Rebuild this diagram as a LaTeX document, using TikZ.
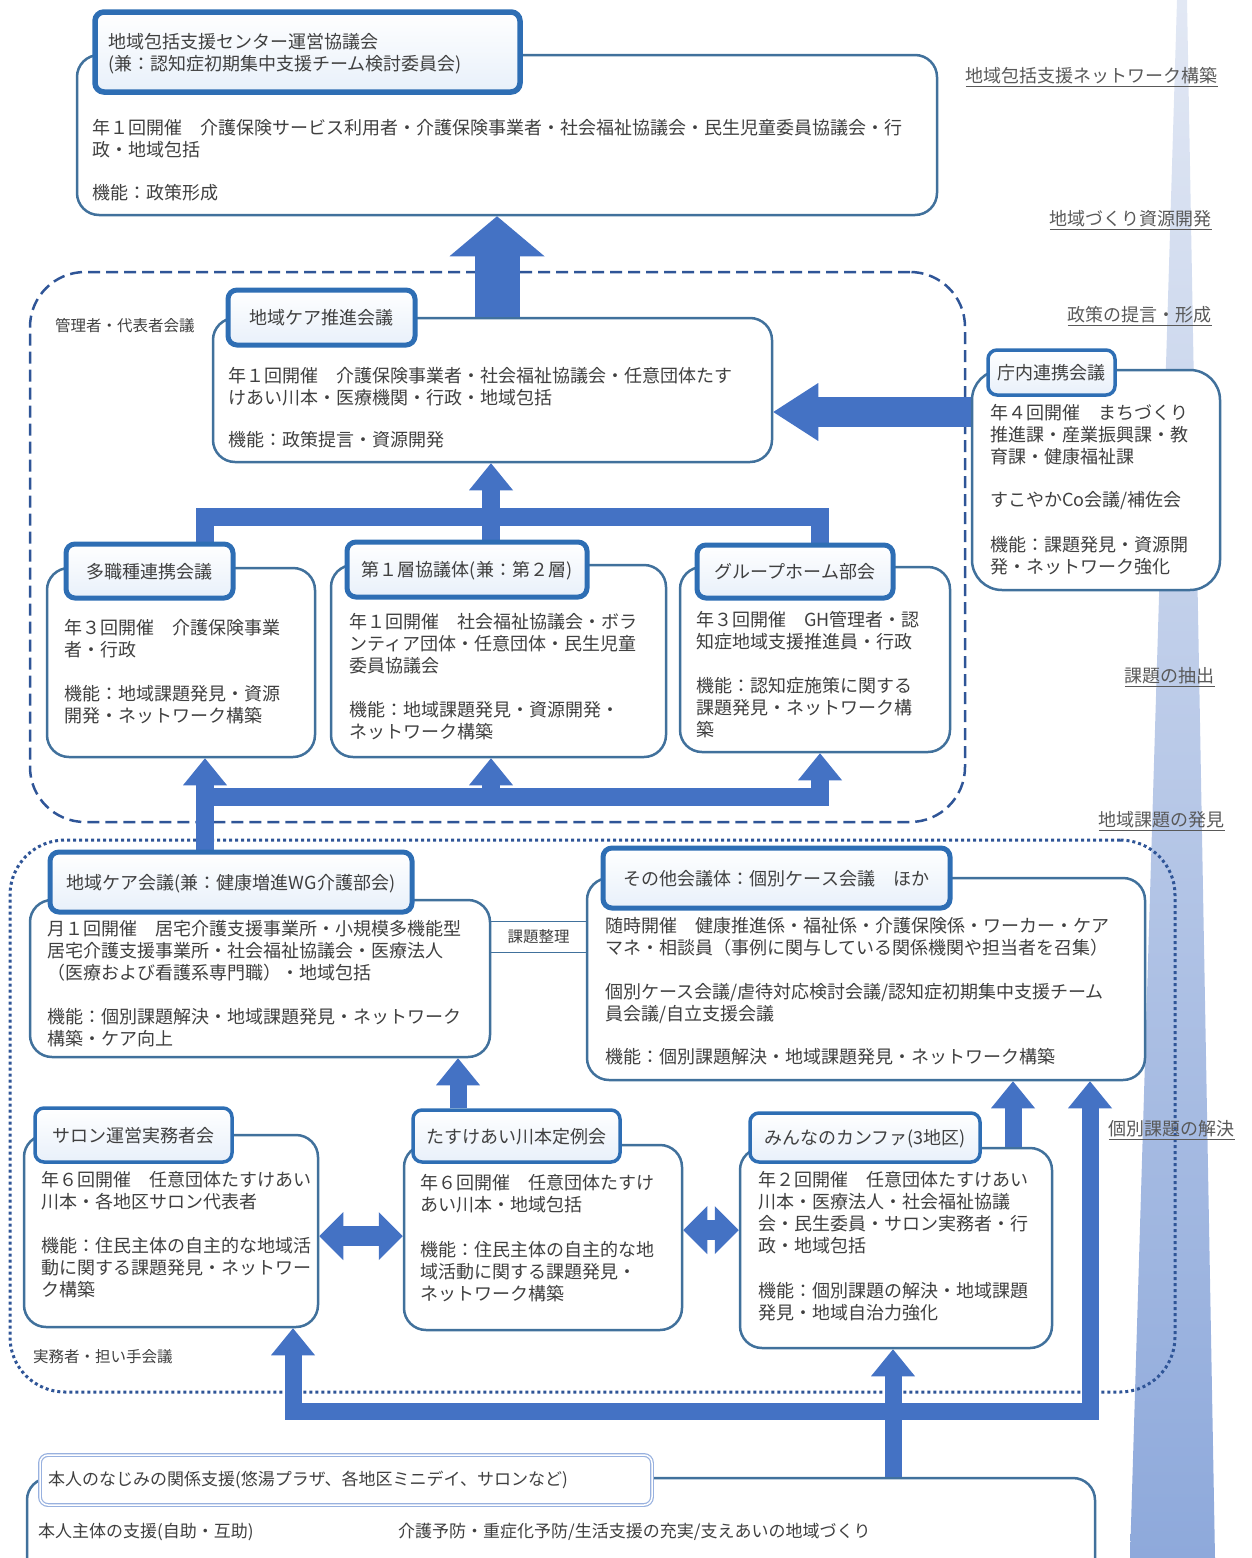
\documentclass[tikz,border=0pt]{standalone}
\usepackage{fontspec}
\setmainfont{Noto Sans CJK JP}
\usetikzlibrary{arrows.meta,fit}
\definecolor{boxc}{RGB}{65,113,156}
\definecolor{hdrc}{RGB}{46,110,180}
\definecolor{arrc}{RGB}{68,114,196}
\definecolor{grpc}{RGB}{47,85,151}
\definecolor{txtc}{RGB}{64,64,64}
\definecolor{hdrfill}{RGB}{232,240,250}
\definecolor{spiketop}{RGB}{226,232,244}
\definecolor{spikebot}{RGB}{142,169,219}
\definecolor{lblc}{RGB}{89,89,89}
\newcommand{\bfsz}{\fontsize{18}{22}\selectfont}
\newcommand{\mfsz}{\fontsize{17}{21}\selectfont}
\newcommand{\sfsz}{\fontsize{15.5}{19}\selectfont}
\pgfdeclarelayer{back}
\pgfdeclarelayer{mid}
\pgfsetlayers{back,mid,main}
\tikzset{
  outerbox/.style={draw=boxc, line width=2.5pt, rounded corners=22pt, fill=white, inner sep=0pt},
  hdrbox/.style={draw=hdrc, line width=5pt, rounded corners=9pt, top color=white, bottom color=hdrfill, inner sep=0pt},
  hdrtxt/.style={anchor=base, inner sep=0pt, text=txtc, font=\bfsz},
  honhdr/.style={draw=arrc!55, line width=1.2pt, double=white, double distance=1.5pt, rounded corners=8pt, fill=white, inner sep=0pt},
  bodytxt/.style={anchor=north west, inner sep=0pt, align=left, text=txtc, font=\bfsz},
  smalltxt/.style={inner sep=0pt, text=txtc, font=\sfsz},
  sidelbl/.style={anchor=east, inner sep=0pt, text=lblc, font=\bfsz},
  grpdash/.style={draw=grpc, line width=2.5pt, dash pattern=on 12pt off 6pt, rounded corners=55pt, inner sep=0pt},
  grpdot/.style={draw=grpc, line width=3pt, dash pattern=on 3pt off 3pt, rounded corners=55pt, inner sep=0pt},
  shaft/.style={draw=arrc, line join=miter},
  tipL/.tip={Triangle[width=95pt,length=40pt,line width=0pt]},
  tipW/.tip={Triangle[width=58pt,length=45pt,line width=0pt]},
  tipM/.tip={Triangle[width=44pt,length=27pt,line width=0pt]},
  tipD/.tip={Triangle[width=48pt,length=24pt,line width=0pt]},
}
\begin{document}
\begin{tikzpicture}[x=1pt,y=-1pt]
\useasboundingbox (0,0) rectangle (1251,1558);
\clip (0,0) rectangle (1251,1558);

\begin{pgfonlayer}{back}
% spike
\shade[top color=spiketop, bottom color=spikebot] (1177,0) -- (1187,0) -- (1215,1558) -- (1130,1558) -- cycle;

% groups
\node[grpdash, fit={(30,272) (965,822)}] (mgr) {};
\node[grpdot, fit={(10,840) (1175,1392)}] (prac) {};

% outer boxes
\node[outerbox, fit={(77,55) (937,215)}] (top) {};
\node[outerbox, fit={(213,318) (772,462)}] (suishin) {};
\node[outerbox, rounded corners=30pt, fit={(972,370) (1220,590)}] (chonai) {};
\node[outerbox, fit={(47,568) (315,757)}] (tamulti) {};
\node[outerbox, fit={(331,565) (666,757)}] (dai1) {};
\node[outerbox, fit={(680,567) (950,752)}] (gh) {};
\node[outerbox, fit={(30,900) (490,1057)}] (kaigi) {};
\node[outerbox, fit={(587,878) (1145,1080)}] (sonota) {};
\node[outerbox, fit={(24,1135) (318,1327)}] (salon) {};
\node[outerbox, fit={(404,1145) (682,1330)}] (tasuke) {};
\node[outerbox, fit={(740,1148) (1052,1348)}] (minna) {};
\node[outerbox, fit={(27,1478) (1095,1600)}] (honnin) {};
\end{pgfonlayer}

% side labels
\node[sidelbl] (l1) at (1218,77) {\underline{地域包括支援ネットワーク構築}};
\node[sidelbl] (l2) at (1212,220) {\underline{地域づくり資源開発}};
\node[sidelbl] (l3) at (1212,316) {\underline{政策の提言・形成}};
\node[sidelbl] (l4) at (1215,677) {\underline{課題の抽出}};
\node[sidelbl] (l5) at (1225,821) {\underline{地域課題の発見}};
\node[sidelbl] (l6) at (1235,1130) {\underline{個別課題の解決}};

\node[smalltxt, anchor=west] (mgrl) at (55,326) {管理者・代表者会議};
\node[smalltxt, anchor=west] (pracl) at (33,1357) {実務者・担い手会議};

% body texts
\node[bodytxt] (topb) at (92,119) {年１回開催　介護保険サービス利用者・介護保険事業者・社会福祉協議会・民生児童委員協議会・行\\政・地域包括\\[21pt]機能：政策形成};
\node[bodytxt] (suishinb) at (228,367) {年１回開催　介護保険事業者・社会福祉協議会・任意団体たす\\けあい川本・医療機関・行政・地域包括\\[20pt]機能：政策提言・資源開発};
\node[bodytxt] (chonaib) at (990,404) {年４回開催　まちづくり\\推進課・産業振興課・教\\育課・健康福祉課\\[21pt]すこやかCo会議/補佐会\\[23pt]機能：課題発見・資源開\\発・ネットワーク強化};
\node[bodytxt] (tamultib) at (64,619) {年３回開催　介護保険事業\\者・行政\\[22pt]機能：地域課題発見・資源\\開発・ネットワーク構築};
\node[bodytxt] (dai1b) at (349,613) {年１回開催　社会福祉協議会・ボラ\\ンティア団体・任意団体・民生児童\\委員協議会\\[22pt]機能：地域課題発見・資源開発・\\ネットワーク構築};
\node[bodytxt] (ghb) at (696,611) {年３回開催　GH管理者・認\\知症地域支援推進員・行政\\[22pt]機能：認知症施策に関する\\課題発見・ネットワーク構\\築};
\node[bodytxt] (kaigib) at (47,920) {月１回開催　居宅介護支援事業所・小規模多機能型\\居宅介護支援事業所・社会福祉協議会・医療法人\\（医療および看護系専門職）・地域包括\\[22pt]機能：個別課題解決・地域課題発見・ネットワーク\\構築・ケア向上};
\node[bodytxt] (sonotab) at (605,917) {随時開催　健康推進係・福祉係・介護保険係・ワーカー・ケア\\マネ・相談員（事例に関与している関係機関や担当者を召集）\\[22pt]個別ケース会議/虐待対応検討会議/認知症初期集中支援チーム\\員会議/自立支援会議\\[21pt]機能：個別課題解決・地域課題発見・ネットワーク構築};
\node[bodytxt] (salonb) at (41,1171) {年６回開催　任意団体たすけあい\\川本・各地区サロン代表者\\[22pt]機能：住民主体の自主的な地域活\\動に関する課題発見・ネットワー\\ク構築};
\node[bodytxt] (tasukeb) at (420,1174) {年６回開催　任意団体たすけ\\あい川本・地域包括\\[23pt]機能：住民主体の自主的な地\\域活動に関する課題発見・\\ネットワーク構築};
\node[bodytxt] (minnab) at (758,1171) {年２回開催　任意団体たすけあい\\川本・医療法人・社会福祉協議\\会・民生委員・サロン実務者・行\\政・地域包括\\[23pt]機能：個別課題の解決・地域課題\\発見・地域自治力強化};
\node[smalltxt, font=\mfsz, anchor=west] (honb1) at (38,1532) {本人主体の支援(自助・互助)};
\node[smalltxt, font=\mfsz, anchor=west] (honb2) at (398,1532) {介護予防・重症化予防/生活支援の充実/支えあいの地域づくり};

% connector 課題整理
\node[smalltxt, minimum height=30pt] (kadai) at (538.5,937) {課題整理};
\draw[boxc, line width=1.3pt] (kaigi.east |- kadai.north) -- (sonota.west |- kadai.north)
  (kaigi.east |- kadai.south) -- (sonota.west |- kadai.south);

% headers
\node[hdrbox, line width=5.5pt, fit={(95,12) (520,92)}] (tophdr) {};
\node[bodytxt] (tophdrt) at (108,33) {地域包括支援センター運営協議会\\(兼：認知症初期集中支援チーム検討委員会)};
\node[hdrbox, fit={(228,290) (415,345)}] (suishinhdr) {};
\node[hdrbox, line width=3.5pt, fit={(988,350) (1115,395)}] (chonaihdr) {};
\node[hdrbox, fit={(66,544) (233,598)}] (tamultihdr) {};
\node[hdrbox, fit={(347,542) (587,597)}] (dai1hdr) {};
\node[hdrbox, fit={(697,545) (893,598)}] (ghhdr) {};
\node[hdrbox, fit={(50,852) (412,912)}] (kaigihdr) {};
\node[hdrbox, fit={(603,848) (950,908)}] (sonotahdr) {};
\node[hdrbox, line width=3.5pt, fit={(35,1108) (232,1162)}] (salonhdr) {};
\node[hdrbox, line width=3.5pt, fit={(413,1110) (620,1162)}] (tasukehdr) {};
\node[hdrbox, line width=3.5pt, fit={(750,1113) (980,1162)}] (minnahdr) {};
\node[honhdr, fit={(40,1455) (652,1505)}] (honninhdr) {};
\node[smalltxt, font=\mfsz, anchor=west] (honhdrt) at (48,1480) {本人のなじみの関係支援(悠湯プラザ、各地区ミニデイ、サロンなど)};

\node[hdrtxt] (suishint) at ([yshift=-7pt]suishinhdr.center) {地域ケア推進会議};
\node[hdrtxt] (chonait) at ([yshift=-7pt]chonaihdr.center) {庁内連携会議};
\node[hdrtxt] (tamultit) at ([yshift=-7pt]tamultihdr.center) {多職種連携会議};
\node[hdrtxt] (dai1t) at ([yshift=-7pt]dai1hdr.center) {第１層協議体(兼：第２層)};
\node[hdrtxt] (ght) at ([yshift=-7pt]ghhdr.center) {グループホーム部会};
\node[hdrtxt] (kaigit) at ([yshift=-7pt]kaigihdr.center) {地域ケア会議(兼：健康増進WG介護部会)};
\node[hdrtxt] (sonotat) at ([yshift=-7pt]sonotahdr.center) {その他会議体：個別ケース会議　ほか};
\node[hdrtxt] (salont) at ([yshift=-7pt]salonhdr.center) {サロン運営実務者会};
\node[hdrtxt] (tasuket) at ([yshift=-7pt]tasukehdr.center) {たすけあい川本定例会};
\node[hdrtxt] (minnat) at ([yshift=-7pt]minnahdr.center) {みんなのカンファ(3地区)};

% x / y reference coordinates
\coordinate (xA) at (497,0);
\coordinate (xB) at (205,0);
\coordinate (xC) at (491,0);
\coordinate (xD) at (820,0);
\coordinate (xE) at (458,0);
\coordinate (xF) at (1013,0);
\coordinate (xG) at (1090,0);
\coordinate (xH) at (893,0);
\coordinate (xI) at (293,0);
\coordinate (yF1) at (0,517);
\coordinate (yF2) at (0,797);
\coordinate (yBar) at (0,1411);
\coordinate (yCh) at (0,412);
\coordinate (yD1) at (0,1236);
\coordinate (yD2) at (0,1230);

% arrows (drawn below the headers)
\begin{pgfonlayer}{mid}
\draw[shaft, line width=45pt, -{tipL}] (suishin.north -| xA) -- (top.south -| xA);
\draw[shaft, line width=30pt, -{tipW}] (chonai.west |- yCh) -- (suishin.east |- yCh);
\draw[shaft, line width=18pt] (tamultihdr.north -| xB) -- (xB |- yF1) -- (xD |- yF1) -- (ghhdr.north -| xD);
\draw[shaft, line width=18pt, -{tipM}] (dai1hdr.north -| xC) -- (suishin.south -| xC);
\draw[shaft, line width=18pt, {tipM}-{tipM}] (tamulti.south -| xB) -- (xB |- yF2) -- (xD |- yF2) -- (gh.south -| xD);
\draw[shaft, line width=18pt] (kaigihdr.north -| xB) -- (xB |- yF2);
\draw[shaft, line width=18pt, -{tipM}] (xC |- yF2) -- (dai1.south -| xC);
\draw[shaft, line width=17pt, -{tipM}] (tasukehdr.north -| xE) -- (kaigi.south -| xE);
\draw[shaft, line width=17pt, -{tipM}] (minna.north -| xF) -- (sonota.south -| xF);
\draw[shaft, line width=17pt, -{tipM}] (honnin.north -| xH) -- (minna.south -| xH);
\draw[shaft, line width=17pt, {tipM}-{tipM}] (salon.south -| xI) -- (xI |- yBar) -- (xG |- yBar) -- (sonota.south -| xG);
\draw[shaft, line width=20pt, {tipD}-{tipD}] (salon.east |- yD1) -- (tasuke.west |- yD1);
\draw[shaft, line width=20pt, {tipD}-{tipD}] (tasuke.east |- yD2) -- (minna.west |- yD2);
\end{pgfonlayer}
\end{tikzpicture}
\end{document}
